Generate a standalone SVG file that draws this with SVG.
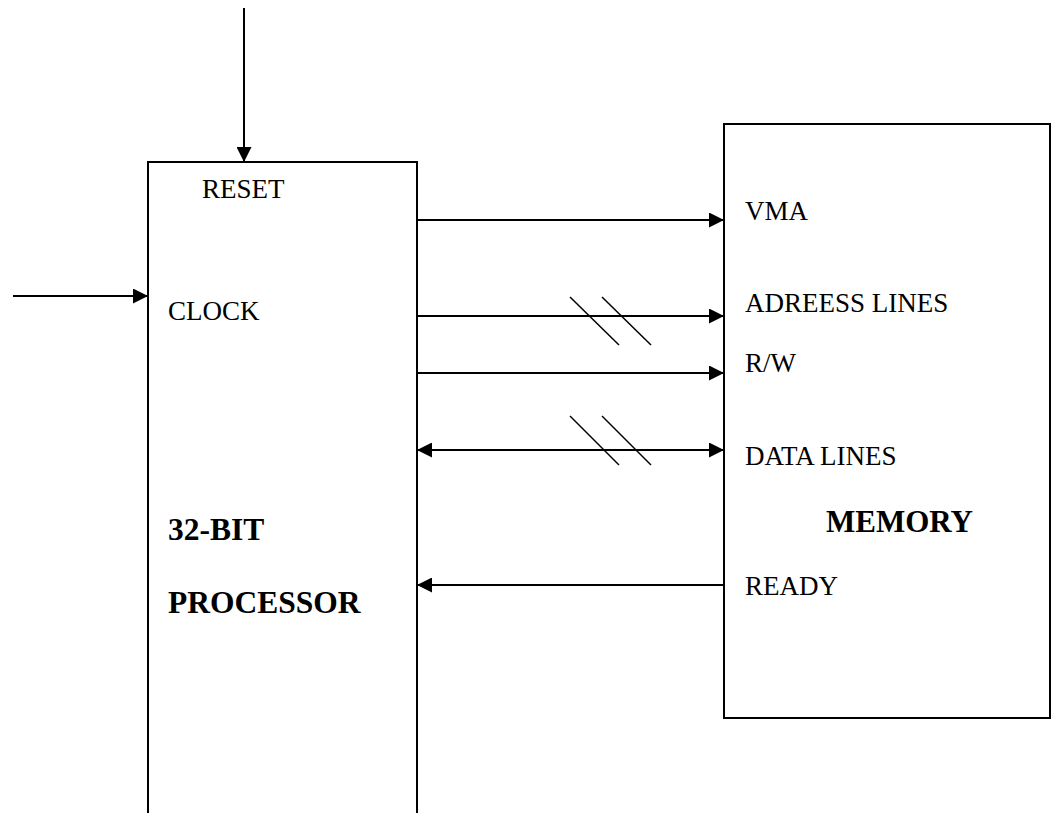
<svg xmlns="http://www.w3.org/2000/svg" width="1053" height="813" viewBox="0 0 1053 813">
<style>
.box{fill:#fff;stroke:#000;stroke-width:2}
.ln{stroke:#000;stroke-width:2;fill:none}
.sl{stroke:#000;stroke-width:1.5;fill:none}
.t{font-family:"Liberation Serif","Times New Roman",serif;font-size:27px;fill:#000}
.b{font-family:"Liberation Serif","Times New Roman",serif;font-size:31.5px;font-weight:bold;fill:#000}
</style>
<defs>
<marker id="ah" markerWidth="15" markerHeight="15" refX="15" refY="7.5" orient="auto-start-reverse" markerUnits="userSpaceOnUse">
<path d="M0,0 L15,7.5 L0,15 Z" fill="#000"/>
</marker>
</defs>
<rect width="1053" height="813" fill="#fff"/>
<g id="processor">
<path class="box" d="M148,814 L148,162 L417,162 L417,814"/>
<text class="t" x="202" y="198">RESET</text>
<text class="t" x="168" y="320">CLOCK</text>
<text class="b" x="168" y="540">32-BIT</text>
<text class="b" x="168" y="613">PROCESSOR</text>
</g>
<g id="memory">
<rect class="box" x="724" y="124" width="326" height="594"/>
<text class="t" x="745" y="220">VMA</text>
<text class="t" x="745" y="312">ADREESS LINES</text>
<text class="t" x="745" y="372">R/W</text>
<text class="t" x="745" y="465">DATA LINES</text>
<text class="b" x="826" y="532" style="font-size:31px">MEMORY</text>
<text class="t" x="745" y="595">READY</text>
</g>
<g id="connectors">
<line class="ln" x1="244" y1="8" x2="244" y2="162" marker-end="url(#ah)"/>
<line class="ln" x1="13" y1="296" x2="148" y2="296" marker-end="url(#ah)"/>
<line class="ln" x1="417" y1="220" x2="724" y2="220" marker-end="url(#ah)"/>
<line class="ln" x1="417" y1="316" x2="724" y2="316" marker-end="url(#ah)"/>
<line class="ln" x1="417" y1="373" x2="724" y2="373" marker-end="url(#ah)"/>
<line class="ln" x1="417" y1="450" x2="724" y2="450" marker-start="url(#ah)" marker-end="url(#ah)"/>
<line class="ln" x1="724" y1="585" x2="417" y2="585" marker-end="url(#ah)"/>
<line class="sl" x1="570" y1="297" x2="619" y2="345"/>
<line class="sl" x1="602" y1="297" x2="651" y2="345"/>
<line class="sl" x1="570" y1="416" x2="619" y2="465"/>
<line class="sl" x1="602" y1="416" x2="651" y2="465"/>
</g>
</svg>
